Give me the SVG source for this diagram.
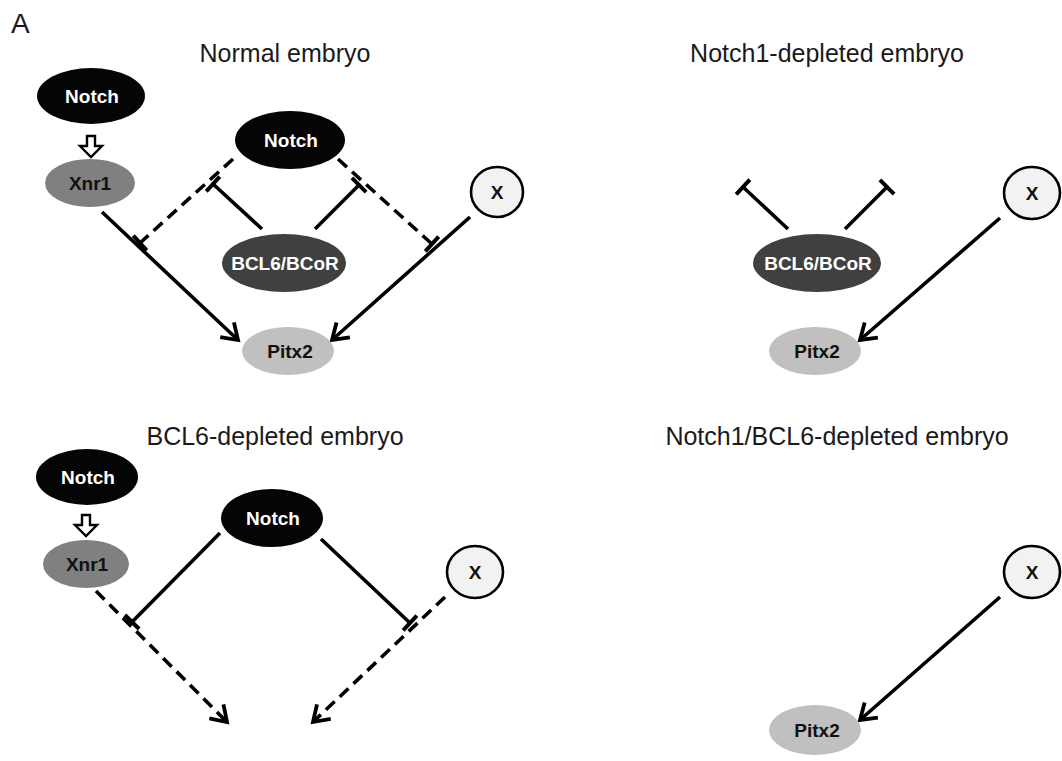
<svg xmlns="http://www.w3.org/2000/svg" width="1062" height="761" viewBox="0 0 1062 761">
<style>
.title{font-family:"Liberation Sans",Arial,sans-serif;font-size:25px;fill:#1a1a1a;text-anchor:middle}
.lbl{font-family:"Liberation Sans",Arial,sans-serif;font-size:19px;font-weight:bold;text-anchor:middle}
.w{fill:#ffffff}
.k{fill:#111111}
.notch{fill:#050505}
.xnr{fill:#808080}
.bcl{fill:#404040}
.pitx{fill:#c0c0c0}
.xn{fill:#f2f2f2;stroke:#000;stroke-width:2.6}
.ln{fill:none;stroke:#000;stroke-width:3.6}
.dash{stroke-dasharray:12 7}
.inh{marker-end:url(#tbar)}
.act{marker-end:url(#vhead)}
.blk{fill:#fff;stroke:#000;stroke-width:2.4;stroke-linejoin:miter}
</style>
<defs>
<marker id="tbar" markerUnits="userSpaceOnUse" orient="auto" markerWidth="20" markerHeight="24" refX="2" refY="12" viewBox="0 0 20 24" overflow="visible">
<path d="M2,2 L2,22" stroke="#000" stroke-width="4" fill="none"/>
</marker>
<marker id="vhead" markerUnits="userSpaceOnUse" orient="auto" markerWidth="24" markerHeight="24" refX="18" refY="12" viewBox="0 0 24 24" overflow="visible">
<path d="M3,2 L18,12 L3,22" stroke="#000" stroke-width="3.8" fill="none" stroke-linejoin="miter"/>
</marker>
</defs>
<rect width="1062" height="761" fill="#ffffff"/>
<text x="11" y="33" font-family="Liberation Sans, Arial, sans-serif" font-size="28" fill="#1a1a1a">A</text>
<text class="title" x="285" y="62">Normal embryo</text>
<text class="title" x="827" y="62">Notch1-depleted embryo</text>
<text class="title" x="275" y="445">BCL6-depleted embryo</text>
<text class="title" x="837" y="445">Notch1/BCL6-depleted embryo</text>

<g id="connectors">
<!-- panel 1 -->
<line class="ln act" x1="102" y1="212" x2="238" y2="340"/>
<line class="ln act" x1="470" y1="217" x2="332" y2="340"/>
<line class="ln dash inh" x1="233" y1="159" x2="140" y2="243"/>
<line class="ln dash inh" x1="338" y1="159" x2="432" y2="244"/>
<line class="ln inh" x1="262" y1="229" x2="213" y2="184"/>
<line class="ln inh" x1="315" y1="229" x2="359" y2="185"/>
<polygon class="blk" points="87,136 95,136 95,146 102,146 91,157 80,146 87,146"/>
<!-- panel 2 -->
<line class="ln inh" x1="788" y1="229" x2="743" y2="187"/>
<line class="ln inh" x1="845" y1="229" x2="887" y2="187"/>
<line class="ln act" x1="1000" y1="218" x2="860" y2="340"/>
<!-- panel 3 -->
<polygon class="blk" points="82,515 90,515 90,525 97,525 86,536 75,525 82,525"/>
<line class="ln dash act" x1="96" y1="591" x2="227" y2="722"/>
<line class="ln dash act" x1="445" y1="597" x2="313" y2="722"/>
<line class="ln inh" x1="220" y1="533" x2="132" y2="622"/>
<line class="ln inh" x1="321" y1="539" x2="410" y2="623"/>
<!-- panel 4 -->
<line class="ln act" x1="1000" y1="597" x2="860" y2="720"/>
</g>

<g id="p1-notch-a"><ellipse class="notch" cx="91" cy="96" rx="54" ry="28"/><text class="lbl w" x="92" y="103">Notch</text></g>
<g id="p1-xnr1"><ellipse class="xnr" cx="90" cy="183" rx="45" ry="24"/><text class="lbl k" x="90" y="190">Xnr1</text></g>
<g id="p1-notch-b"><ellipse class="notch" cx="290" cy="140" rx="55" ry="29"/><text class="lbl w" x="291" y="147">Notch</text></g>
<g id="p1-bcl6"><ellipse class="bcl" cx="284" cy="263" rx="62" ry="29"/><text class="lbl w" x="285" y="270">BCL6/BCoR</text></g>
<g id="p1-pitx2"><ellipse class="pitx" cx="288" cy="351" rx="46" ry="24"/><text class="lbl k" x="290" y="358">Pitx2</text></g>
<g id="p1-x"><ellipse class="xn" cx="497" cy="192" rx="26" ry="25"/><text class="lbl k" x="497" y="199">X</text></g>

<g id="p2-bcl6"><ellipse class="bcl" cx="817" cy="263" rx="64" ry="29"/><text class="lbl w" x="818" y="270">BCL6/BCoR</text></g>
<g id="p2-pitx2"><ellipse class="pitx" cx="815" cy="351" rx="46" ry="24"/><text class="lbl k" x="817" y="358">Pitx2</text></g>
<g id="p2-x"><ellipse class="xn" cx="1032" cy="193" rx="28" ry="26"/><text class="lbl k" x="1032" y="200">X</text></g>

<g id="p3-notch-a"><ellipse class="notch" cx="87" cy="477" rx="51" ry="28"/><text class="lbl w" x="88" y="484">Notch</text></g>
<g id="p3-xnr1"><ellipse class="xnr" cx="86" cy="564" rx="43" ry="24"/><text class="lbl k" x="87" y="571">Xnr1</text></g>
<g id="p3-notch-b"><ellipse class="notch" cx="272" cy="518" rx="51" ry="29"/><text class="lbl w" x="273" y="525">Notch</text></g>
<g id="p3-x"><ellipse class="xn" cx="475" cy="572" rx="28" ry="26"/><text class="lbl k" x="475" y="579">X</text></g>

<g id="p4-x"><ellipse class="xn" cx="1032" cy="572" rx="28" ry="26"/><text class="lbl k" x="1032" y="579">X</text></g>
<g id="p4-pitx2"><ellipse class="pitx" cx="815" cy="730" rx="46" ry="25"/><text class="lbl k" x="817" y="737">Pitx2</text></g>
</svg>
